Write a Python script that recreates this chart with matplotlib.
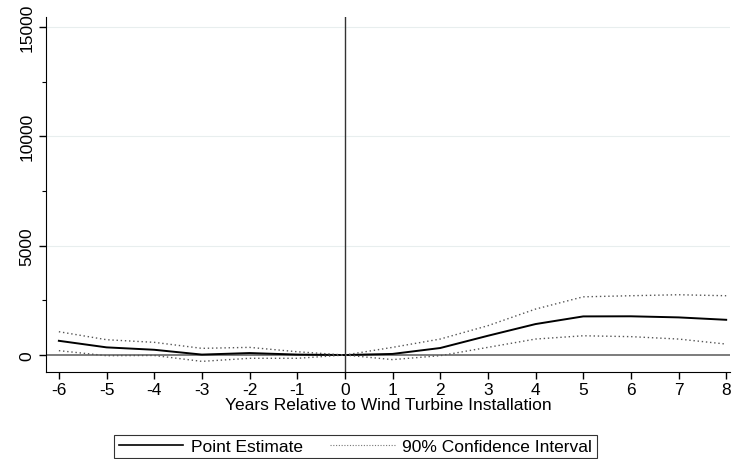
import matplotlib.pyplot as plt
from matplotlib.lines import Line2D

plt.rcParams['font.family'] = ['Liberation Sans', 'DejaVu Sans']
plt.rcParams['axes.unicode_minus'] = False

# Datos
years = [-6, -5, -4, -3, -2, -1, 0, 1, 2, 3, 4, 5, 6, 7, 8]
estimate = [650, 350, 240, 20, 90, 20, 0, 50, 320, 880, 1415, 1765, 1770, 1720, 1610]
ci_upper = [1065, 700, 580, 305, 350, 150, 0, 350, 730, 1340, 2100, 2660, 2710, 2755, 2710]
ci_lower = [200, -30, -20, -290, -150, -150, 0, -210, -30, 350, 730, 880, 840, 730, 500]

fig = plt.figure(figsize=(7.33, 4.6), dpi=100)
ax = fig.add_axes([46 / 733, 1 - 373 / 460, (730 - 46) / 733, (373 - 18) / 460])

ax.plot(years, estimate, color='black', lw=1.4, zorder=3)
ax.plot(years, ci_upper, color='#555555', lw=1.0, ls=(0, (1, 2)), zorder=3)
ax.plot(years, ci_lower, color='#555555', lw=1.0, ls=(0, (1, 2)), zorder=3)

ax.axvline(0, color='#333333', lw=1.0, zorder=2)
ax.axhline(0, color='#666666', lw=1.2, zorder=2)
for g in [5000, 10000, 15000]:
    ax.axhline(g, color='#e8eeee', lw=0.8, zorder=1)

ax.set_xlim(-6.27, 8.08)
ax.set_ylim(-776, 15450)
ax.set_xticks(years)
ax.set_yticks([0, 5000, 10000, 15000])
ax.set_yticks([2500, 7500, 12500], minor=True)
ax.tick_params(axis='y', labelrotation=90, labelsize=12.5, length=5, width=1)
ax.tick_params(axis='y', which='minor', length=3, width=0.8)
ax.tick_params(axis='x', labelsize=12.5, length=5, width=1, pad=2)
for lab in ax.get_yticklabels():
    lab.set_va('center')
ax.spines['top'].set_visible(False)
ax.spines['right'].set_visible(False)
ax.set_xlabel('Years Relative to Wind Turbine Installation', fontsize=12.5, labelpad=0)

handles = [Line2D([], [], color='black', lw=1.2),
           Line2D([], [], color='#777777', lw=0.8, ls=(0, (1, 1.5)))]
leg = fig.legend(handles, ['Point Estimate', '90% Confidence Interval'],
                 loc='center', bbox_to_anchor=(355.5 / 733, 1 - 447.5 / 460),
                 ncol=2, fontsize=12.5, frameon=True, fancybox=False,
                 edgecolor='black', handlelength=3.7, handletextpad=0.45,
                 columnspacing=1.6, borderpad=0.25, borderaxespad=0)
leg.get_frame().set_linewidth(0.8)

plt.savefig('out.png', dpi=100)
